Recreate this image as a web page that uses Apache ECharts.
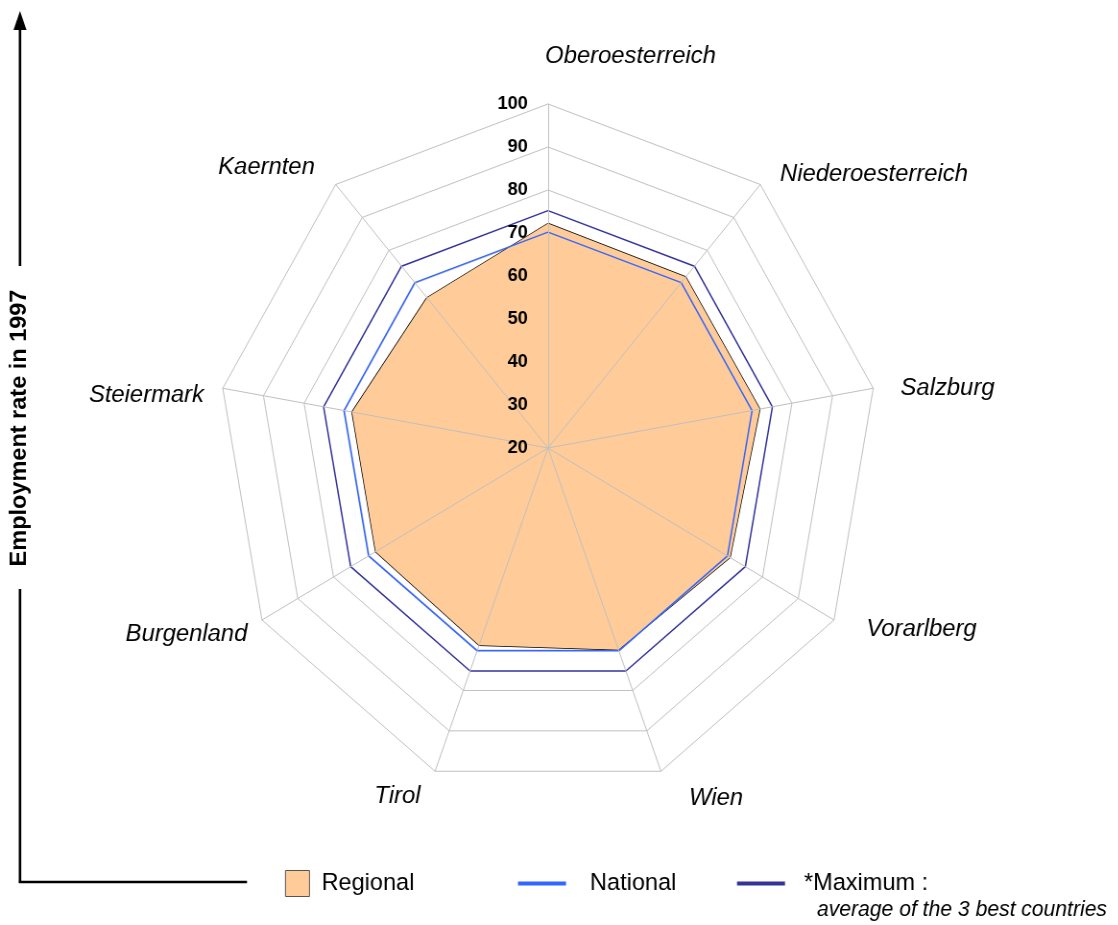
<!DOCTYPE html>
<html>
<head>
<meta charset="utf-8">
<script src="https://cdn.jsdelivr.net/npm/echarts@6/dist/echarts.min.js"></script>
<style>
html,body{margin:0;padding:0;background:#fff;overflow:hidden;}
#wrap{position:relative;width:1118px;height:925px;overflow:hidden;}
#chart{position:absolute;left:0;top:0;width:1165px;height:925px;transform-origin:0 0;transform:scaleX(0.96);}
</style>
</head>
<body>
<div id="wrap"><div id="chart"></div></div>
<script>
// Categories in ECharts radar order (counter-clockwise starting at the top)
const categories = ['Oberoesterreich','Kaernten','Steiermark','Burgenland','Tirol','Wien','Vorarlberg','Salzburg','Niederoesterreich'];
const regionalValues = [72.2, 65.6, 68.2, 68.2, 68.8, 69.9, 70.9, 72.1, 71.9];
const nationalValues = [70.2, 70.2, 70.2, 70.2, 70.2, 70.2, 70.2, 70.2, 70.2];
const maximumValues  = [75.2, 75.2, 75.2, 75.2, 75.2, 75.2, 75.2, 75.2, 75.2];
const axisMin = 20;
const axisMax = 100;
const axisSplits = 8;
const seriesNames = ['Regional', 'National', '*Maximum :'];
const axisTitle = 'Employment rate in 1997';
const legendNote = 'average of the 3 best countries';

// ---- layout / style (not data) ----
const SX = 0.96;                 // horizontal squeeze of the drawing
const X = x => x / SX;           // page x -> chart x
// label centre offsets from the outer vertex, page pixels [dx, dy]
const nameOffsets = [[82.5,-48],[-69.2,-17.5],[-76.3,6.7],[-75.5,14],[-37.6,24.7],[55.1,26.7],[87.5,9],[74.3,-0.3],[113.7,-10.5]];

const FONT = '"Liberation Sans", Arial, Helvetica, sans-serif';
const GRID = '#c0c0c0';
const C_REG = '#FFCC99', C_NAT = '#3366FF', C_MAX = '#333399';

const center = [X(548), 448];
const radius = 344;

function nameLayout(i) {
  const th = (90 + i * 360 / categories.length) * Math.PI / 180;
  const s = Math.sin(th), c = Math.cos(th);
  const dx = nameOffsets[i][0] / SX, dy = nameOffsets[i][1];
  const g = Math.abs(s) > 0.05 ? -dy / s : 0;
  const rem = dx - g * c;
  return {gap: g, padding: [0, Math.max(0, -2 * rem), 0, Math.max(0, 2 * rem)]};
}

const chart = echarts.init(document.getElementById('chart'), null, {renderer: 'canvas'});

const option = {
  backgroundColor: '#ffffff',
  animation: false,
  radar: [
    {
      center: center, radius: radius, startAngle: 90, splitNumber: axisSplits, shape: 'polygon',
      indicator: categories.map((n, i) => {
        const L = nameLayout(i);
        return {
          name: n, min: axisMin, max: axisMax, nameGap: L.gap,
          nameTextStyle: {align: 'center', verticalAlign: 'middle', padding: L.padding}
        };
      }),
      nameGap: 0,
      axisName: {color: '#000', fontFamily: FONT, fontStyle: 'italic', fontSize: 24.8},
      axisLine: {show: false},
      axisTick: {show: false},
      axisLabel: {show: false},
      splitLine: {show: true, lineStyle: {color: GRID, width: 1}},
      splitArea: {show: false},
      z: 0
    },
    {
      center: center, radius: radius, startAngle: 90, splitNumber: axisSplits, shape: 'polygon',
      indicator: categories.map((n, i) => (i === 0
        ? {name: n, min: axisMin, max: axisMax}
        : {name: n, min: axisMin, max: axisMax, axisLabel: {show: false}})),
      axisName: {show: false},
      axisLine: {show: true, lineStyle: {color: GRID, width: 1}},
      axisTick: {show: false},
      axisLabel: {show: true, color: '#000', fontFamily: FONT, fontWeight: 'bold', fontSize: 19, margin: 21},
      splitLine: {show: false},
      splitArea: {show: false},
      z: 3
    }
  ],
  legend: [
    {
      left: X(285), top: 870, padding: 0, icon: 'rect', itemWidth: 24 / SX, itemHeight: 26,
      data: [{name: seriesNames[0], itemStyle: {color: C_REG, borderColor: '#555', borderWidth: 1}}],
      textStyle: {color: '#000', fontFamily: FONT, fontSize: 24.5, padding: [0, 0, 0, 7.5]},
      selectedMode: false
    },
    {
      left: X(518), top: 871, padding: 0, icon: 'rect', itemWidth: 48 / SX, itemHeight: 4,
      data: [{name: seriesNames[1], itemStyle: {color: C_NAT, borderWidth: 0}}],
      textStyle: {color: '#000', fontFamily: FONT, fontSize: 24.5, padding: [0, 0, 0, 20]},
      selectedMode: false
    },
    {
      left: X(737), top: 871, padding: 0, icon: 'rect', itemWidth: 48 / SX, itemHeight: 4,
      data: [{name: seriesNames[2], itemStyle: {color: C_MAX, borderWidth: 0}}],
      textStyle: {color: '#000', fontFamily: FONT, fontSize: 24.5, padding: [0, 0, 0, 14.8]},
      selectedMode: false
    }
  ],
  graphic: [
    {type: 'line', shape: {x1: X(20), y1: 26, x2: X(20), y2: 266}, style: {stroke: '#000', lineWidth: 2.6}},
    {type: 'line', shape: {x1: X(20), y1: 589, x2: X(20), y2: 883}, style: {stroke: '#000', lineWidth: 2.6}},
    {type: 'line', shape: {x1: X(19), y1: 882, x2: X(247), y2: 882}, style: {stroke: '#000', lineWidth: 2.5}},
    {type: 'polygon', shape: {points: [[X(20), 11], [X(13.5), 30], [X(26.5), 30]]}, style: {fill: '#000'}},
    {type: 'text', x: X(20), y: 428, rotation: Math.PI / 2,
      style: {text: axisTitle, fill: '#000', font: 'bold 23.5px ' + FONT, textAlign: 'center', textVerticalAlign: 'middle'}},
    {type: 'text', x: X(817), y: 910,
      style: {text: legendNote, fill: '#000', font: 'italic 22px ' + FONT, textAlign: 'left', textVerticalAlign: 'middle'}}
  ],
  series: [
    {
      type: 'radar', radarIndex: 0, symbol: 'none', z: 2,
      data: [
        {name: seriesNames[0], value: regionalValues,
          itemStyle: {color: C_REG},
          lineStyle: {color: '#000', width: 1.5},
          areaStyle: {color: C_REG, opacity: 1}},
        {name: seriesNames[1], value: nationalValues,
          itemStyle: {color: C_NAT},
          lineStyle: {color: C_NAT, width: 1.5}},
        {name: seriesNames[2], value: maximumValues,
          itemStyle: {color: C_MAX},
          lineStyle: {color: C_MAX, width: 1.5}}
      ]
    }
  ]
};
chart.setOption(option);
</script>
</body>
</html>
